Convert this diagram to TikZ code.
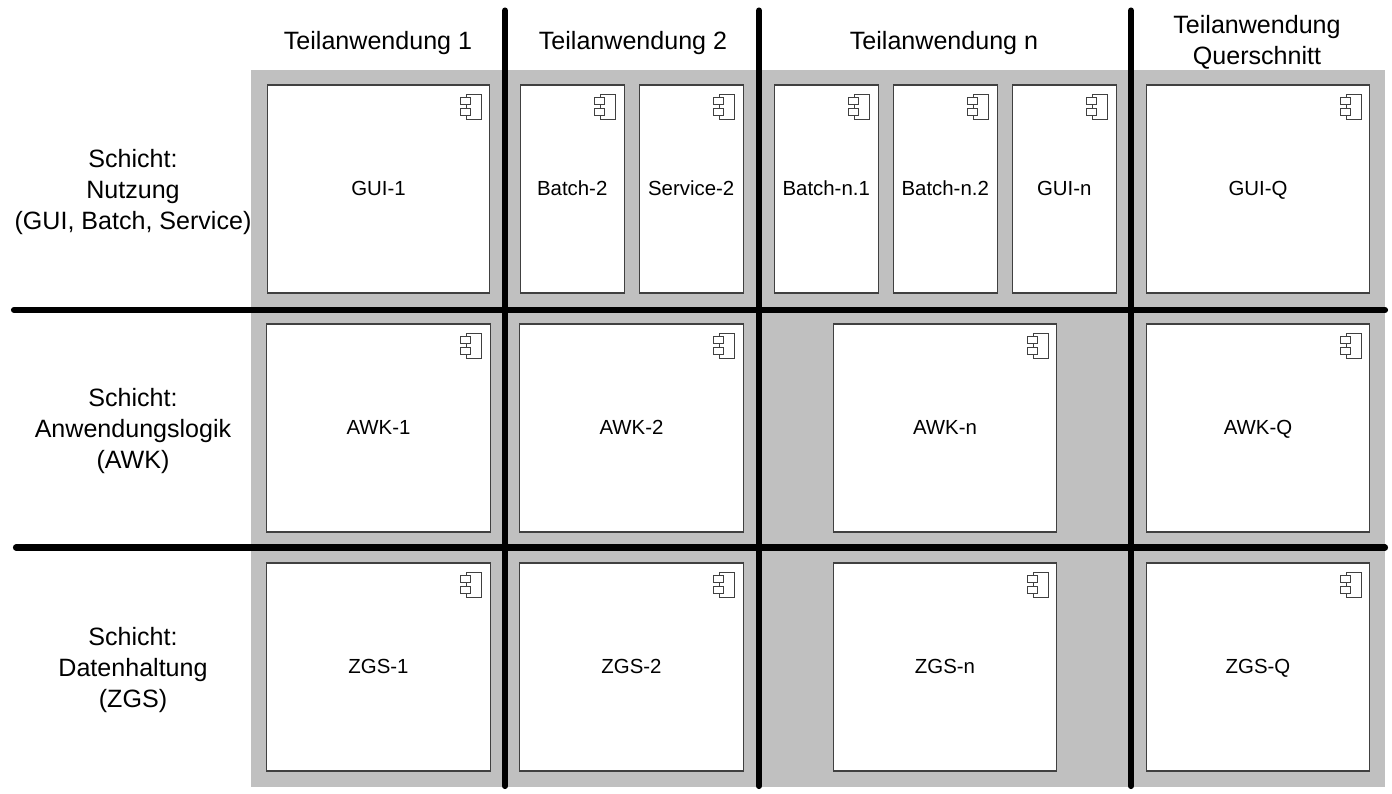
\documentclass[tikz,border=0pt]{standalone}
\usepackage{fontspec}
\setmainfont{Liberation Sans}
\definecolor{layerbg}{HTML}{C0C0C0}
\definecolor{boxline}{HTML}{404040}
\tikzset{
	comp/.style={draw=boxline,fill=white,line width=0.9pt,inner sep=0pt,minimum height=156pt,text height=12pt,text depth=2.3pt,font=\fontsize{15.3}{18}\selectfont},
	head/.style={align=center,inner sep=0pt,font=\fontsize{18.8}{23.2}\selectfont},
	sep/.style={line width=4.6pt,line cap=round}
}
% small component symbol in the upper right corner of a box
\newcommand{\compicon}[1]{
	\begin{scope}[shift={(#1.north east)},draw=boxline,line width=0.75pt]
		\draw (-24,10) rectangle (-9,35);
		\draw[fill=white] (-30,13) rectangle (-20,20);
		\draw[fill=white] (-30,24) rectangle (-20,31);
	\end{scope}
}
\begin{document}
\begin{tikzpicture}[x=0.75pt,y=-0.75pt]
	\useasboundingbox (0,0) rectangle (1392,793);
	% background
	\fill[layerbg] (251,70) rectangle (1385,787);

	% top row, narrow boxes
	\foreach \name/\x/\wid/\txt in {gui1/378.5/167/GUI-1,batch2/572.2/78/Batch-2,service2/691.2/78/Service-2,batchn1/826.2/78/Batch-n.1,batchn2/945.2/78/Batch-n.2,guin/1064.2/78/GUI-n,guiq/1258/167.5/GUI-Q}
	{
		\node[comp,minimum width=\wid pt] (\name) at (\x,189) {\txt};
		\compicon{\name}
	}
	% lower rows
	\foreach \name/\x/\y/\txt in {awk1/378.5/428/AWK-1,awk2/631.5/428/AWK-2,awkn/945/428/AWK-n,awkq/1258/428/AWK-Q,zgs1/378.5/667/ZGS-1,zgs2/631.5/667/ZGS-2,zgsn/945/667/ZGS-n,zgsq/1258/667/ZGS-Q}
	{
		\node[comp,minimum width=167.5pt] (\name) at (\x,\y) {\txt};
		\compicon{\name}
	}

	% column heads
	\node[head] (head1) at (378,43) {Teilanwendung 1};
	\node[head] (head2) at (633,43) {Teilanwendung 2};
	\node[head] (headn) at (944,43) {Teilanwendung n};
	\node[head] (headq) at (1257,42) {Teilanwendung\\Querschnitt};

	% row heads
	\node[head] (layer1) at (133,192) {Schicht:\\Nutzung\\(GUI, Batch, Service)};
	\node[head] (layer2) at (133,431) {Schicht:\\Anwendungslogik\\(AWK)};
	\node[head] (layer3) at (133,670) {Schicht:\\Datenhaltung\\(ZGS)};

	% separators
	\foreach \x in {505,759,1131}
		\draw[sep] (\x,10.5) -- (\x,786);
	\draw[sep] (14,310) -- (1385,310);
	\draw[sep] (16,547.5) -- (1385,547.5);
\end{tikzpicture}
\end{document}
